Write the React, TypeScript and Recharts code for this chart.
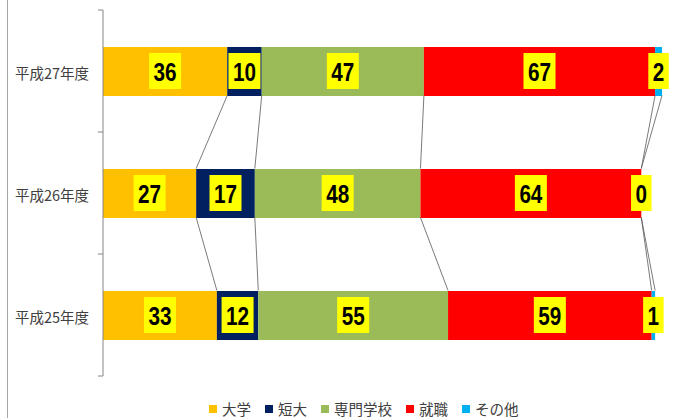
import React from "react";
import { ComposedChart, Bar, Line, XAxis, YAxis, Legend } from "recharts";

// 進路状況（人数）
const years = ["平成27年度", "平成26年度", "平成25年度"];
const daigaku = [36, 27, 33];
const tandai = [10, 17, 12];
const senmon = [47, 48, 55];
const shushoku = [67, 64, 59];
const sonota = [2, 0, 1];

const seriesNames = ["大学", "短大", "専門学校", "就職", "その他"];
const seriesColors = ["#FFC000", "#002060", "#9BBB59", "#FF0000", "#00B0F0"];
const seriesValues = [daigaku, tandai, senmon, shushoku, sonota];

// s = value, c = cumulative end, m = segment middle (for labels)
const data = years.map((name, i) => {
  const row: any = { name };
  let cum = 0;
  seriesValues.forEach((vals, s) => {
    row[`s${s}`] = vals[i];
    row[`m${s}`] = cum + vals[i] / 2;
    cum += vals[i];
    row[`c${s}`] = cum;
  });
  return row;
});

const BAR_SIZE = 49;
const CJK = "'Noto Sans CJK JP', 'Noto Sans', sans-serif";
const NUM_FONT = "'Liberation Sans', Arial, sans-serif";

// yellow box label, drawn at the middle of each segment
const makeLabelDot = (s: number) => (props: any) => {
  const { cx, cy, index, payload } = props;
  const txt = String(payload[`s${s}`]);
  const tw = txt.length * 11.5;
  const w = tw + 9;
  const h = 36;
  return (
    <g key={`lb-${s}-${index}`}>
      <rect x={cx - w / 2} y={cy - h / 2} width={w} height={h} fill="#FFFF00" />
      <text
        x={cx}
        y={cy + 1}
        textAnchor="middle"
        dominantBaseline="central"
        fontFamily={NUM_FONT}
        fontWeight="bold"
        fontSize={25}
        textLength={tw}
        lengthAdjust="spacingAndGlyphs"
        fill="#000"
      >
        {txt}
      </text>
    </g>
  );
};

// series lines between rows (drawn from the dots of an invisible line)
const seriesLineDot = (props: any) => {
  const { cx, cy, index, points, dataKey } = props;
  if (!points || index >= points.length - 1) return <g key={`sl-${dataKey}-${index}`} />;
  const next = points[index + 1];
  return (
    <line
      key={`sl-${dataKey}-${index}`}
      x1={cx}
      y1={cy + BAR_SIZE / 2}
      x2={next.x}
      y2={next.y - BAR_SIZE / 2}
      stroke="#595959"
      strokeWidth={0.8}
    />
  );
};

const YTick = (props: any) => {
  const { x, y, payload, index, visibleTicksCount } = props;
  const off = payload.offset ?? 0;
  return (
    <g>
      <text
        x={x - 14}
        y={y + 1}
        textAnchor="end"
        dominantBaseline="central"
        fontSize={14.5}
        fill="#404040"
        fontFamily={CJK}
      >
        {payload.value}
      </text>
      <line x1={x - 5} x2={x} y1={y - off} y2={y - off} stroke="#868686" />
      {index === visibleTicksCount - 1 && (
        <line x1={x - 5} x2={x} y1={y + off} y2={y + off} stroke="#868686" />
      )}
    </g>
  );
};

const LegendContent = () => (
  <div
    style={{
      display: "flex",
      fontFamily: CJK,
      fontSize: 14.5,
      color: "#404040",
      lineHeight: "16px",
    }}
  >
    {seriesNames.map((n, i) => (
      <div key={n} style={{ display: "flex", alignItems: "center", marginRight: 14 }}>
        <span
          style={{
            width: 8,
            height: 8,
            background: seriesColors[i],
            marginRight: 5,
            display: "inline-block",
          }}
        />
        <span>{n}</span>
      </div>
    ))}
  </div>
);

export default function App() {
  return (
    <div style={{ position: "absolute", left: 0, top: 0, width: 674, height: 418, background: "#fff" }}>
      <div style={{ position: "absolute", left: 7, top: 0, width: 1, height: 418, background: "#a6a6a6" }} />
      <ComposedChart
        width={674}
        height={418}
        data={data}
        layout="vertical"
        margin={{ top: 10, right: 12, bottom: 42, left: 0 }}
      >
        <XAxis type="number" domain={[0, 162]} hide />
        <YAxis
          type="category"
          dataKey="name"
          width={103}
          interval={0}
          tickSize={0}
          tickMargin={0}
          tickLine={false}
          axisLine={{ stroke: "#868686" }}
          tick={YTick}
        />
        {seriesNames.map((n, s) => (
          <Bar
            key={n}
            dataKey={`s${s}`}
            name={n}
            stackId="a"
            fill={seriesColors[s]}
            barSize={BAR_SIZE}
            isAnimationActive={false}
          />
        ))}
        {seriesNames.map((n, s) => (
          <Line
            key={`line-${n}`}
            dataKey={`c${s}`}
            stroke="none"
            dot={seriesLineDot}
            activeDot={false}
            legendType="none"
            isAnimationActive={false}
          />
        ))}
        {seriesNames.map((n, s) => (
          <Line
            key={`label-${n}`}
            dataKey={`m${s}`}
            stroke="none"
            dot={makeLabelDot(s)}
            activeDot={false}
            legendType="none"
            isAnimationActive={false}
          />
        ))}
        <Legend
          layout="horizontal"
          verticalAlign="middle"
          content={LegendContent}
          wrapperStyle={{ top: 401, left: 209, width: "auto" }}
        />
      </ComposedChart>
    </div>
  );
}
